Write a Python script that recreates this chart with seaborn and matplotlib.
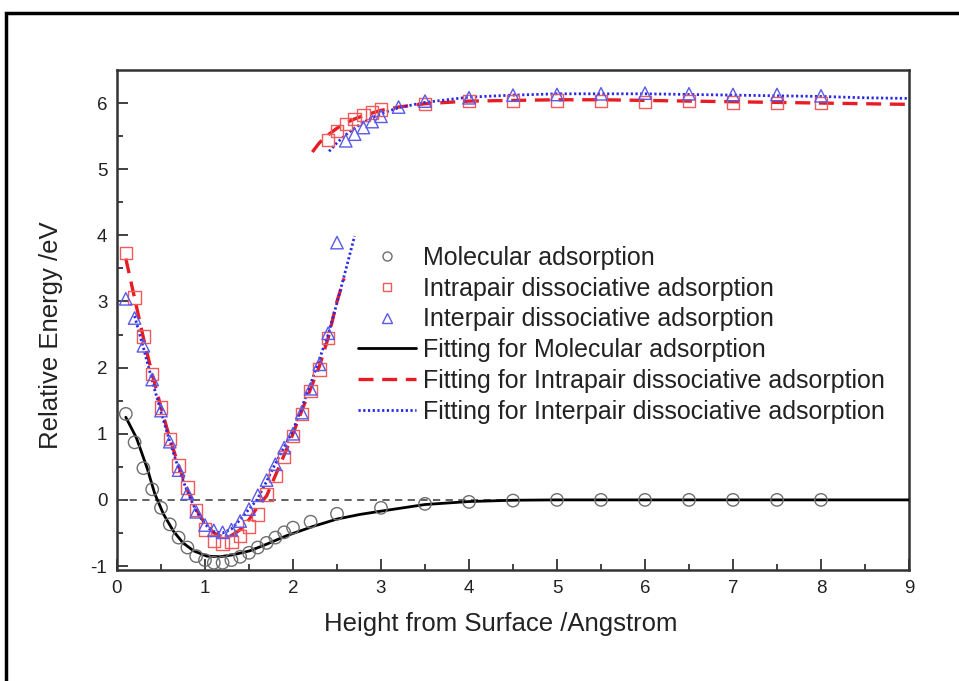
import numpy as np
import pandas as pd
import seaborn as sns
import matplotlib.pyplot as plt
from matplotlib.patches import Rectangle
from matplotlib.lines import Line2D

# ---- computed points ----
mol_x = [0.1, 0.2, 0.3, 0.4, 0.5, 0.6, 0.7, 0.8, 0.9, 1.0, 1.1, 1.2, 1.3, 1.4, 1.5,
         1.6, 1.7, 1.8, 1.9, 2.0, 2.2, 2.5, 3.0, 3.5, 4.0, 4.5, 5.0, 5.5, 6.0, 6.5,
         7.0, 7.5, 8.0]
mol_y = [1.30, 0.87, 0.48, 0.16, -0.12, -0.37, -0.57, -0.72, -0.85, -0.91, -0.95,
         -0.95, -0.91, -0.86, -0.80, -0.72, -0.65, -0.57, -0.49, -0.42, -0.33, -0.21,
         -0.12, -0.06, -0.03, -0.01, 0.0, 0.0, 0.0, 0.0, 0.0, 0.0, 0.0]

intra_x = [0.1, 0.2, 0.3, 0.4, 0.5, 0.6, 0.7, 0.8, 0.9, 1.0, 1.1, 1.2, 1.3, 1.4, 1.5,
           1.6, 1.7, 1.8, 1.9, 2.0, 2.1, 2.2, 2.3, 2.4,
           2.4, 2.5, 2.6, 2.7, 2.8, 2.9, 3.0, 3.5, 4.0, 4.5, 5.0, 5.5, 6.0, 6.5,
           7.0, 7.5, 8.0]
intra_y = [3.73, 3.06, 2.47, 1.90, 1.40, 0.92, 0.52, 0.19, -0.15, -0.45, -0.62, -0.66,
           -0.64, -0.55, -0.40, -0.22, 0.08, 0.36, 0.65, 0.97, 1.30, 1.65, 1.97, 2.45,
           5.44, 5.58, 5.68, 5.76, 5.82, 5.86, 5.90, 5.99, 6.03, 6.03, 6.04, 6.03,
           6.02, 6.03, 6.01, 6.00, 6.00]

inter_x = [0.1, 0.2, 0.3, 0.4, 0.5, 0.6, 0.7, 0.8, 0.9, 1.0, 1.1, 1.2, 1.3, 1.4, 1.5,
           1.6, 1.7, 1.8, 1.9, 2.0, 2.1, 2.2, 2.3, 2.4, 2.5,
           2.6, 2.7, 2.8, 2.9, 3.0, 3.2, 3.5, 4.0, 4.5, 5.0, 5.5, 6.0, 6.5, 7.0,
           7.5, 8.0]
inter_y = [3.04, 2.75, 2.33, 1.82, 1.35, 0.88, 0.45, 0.10, -0.18, -0.38, -0.46, -0.49,
           -0.45, -0.32, -0.14, 0.07, 0.30, 0.54, 0.79, 1.00, 1.32, 1.68, 2.05, 2.52,
           3.89,
           5.43, 5.53, 5.63, 5.72, 5.80, 5.94, 6.03, 6.08, 6.12, 6.13, 6.14, 6.15,
           6.14, 6.13, 6.13, 6.11]

# ---- fitted curves ----
fit_mol_x = [0.10, 0.22, 0.34, 0.43, 0.53, 0.64, 0.75, 0.87, 1.02, 1.17, 1.32, 1.51,
             1.70, 1.93, 2.23, 2.50, 2.76, 3.00, 3.50, 4.00, 4.50, 5.00, 6.00, 7.00,
             8.00, 9.00]
fit_mol_y = [1.25, 0.94, 0.49, 0.09, -0.22, -0.47, -0.65, -0.77, -0.85, -0.86, -0.83,
             -0.77, -0.67, -0.54, -0.40, -0.29, -0.22, -0.17, -0.07, -0.025, -0.005,
             0.0, 0.0, 0.0, 0.0, 0.0]

fit_intra_lo_x = [0.1, 0.2, 0.3, 0.4, 0.5, 0.6, 0.7, 0.8, 0.9, 1.0, 1.1, 1.2, 1.3,
                  1.4, 1.5, 1.6, 1.7, 1.8, 1.9, 2.0, 2.1, 2.2, 2.3, 2.4, 2.5, 2.58]
fit_intra_lo_y = [3.65, 3.05, 2.45, 1.90, 1.40, 0.93, 0.52, 0.15, -0.14, -0.36, -0.50,
                  -0.56, -0.54, -0.45, -0.30, -0.10, 0.06, 0.37, 0.68, 1.00, 1.35, 1.68,
                  2.02, 2.45, 3.00, 3.35]
fit_intra_hi_x = [2.22, 2.3, 2.4, 2.5, 2.6, 2.7, 2.8, 2.9, 3.0, 3.2, 3.5, 4.0, 4.5,
                  5.0, 5.5, 6.0, 6.5, 7.0, 7.5, 8.0, 8.5, 9.0]
fit_intra_hi_y = [5.26, 5.40, 5.52, 5.62, 5.70, 5.76, 5.81, 5.85, 5.89, 5.94, 5.99,
                  6.03, 6.04, 6.05, 6.05, 6.04, 6.03, 6.02, 6.01, 6.00, 5.99, 5.98]

fit_inter_lo_x = [0.2, 0.3, 0.4, 0.5, 0.6, 0.7, 0.8, 0.9, 1.0, 1.1, 1.2, 1.3, 1.4,
                  1.5, 1.59, 1.7, 1.8, 1.9, 2.0, 2.1, 2.2, 2.3, 2.4, 2.5, 2.6, 2.7]
fit_inter_lo_y = [2.78, 2.30, 1.80, 1.33, 0.88, 0.47, 0.12, -0.17, -0.37, -0.48,
                  -0.50, -0.44, -0.30, -0.14, 0.0, 0.28, 0.55, 0.80, 1.05, 1.40, 1.75,
                  2.13, 2.50, 2.98, 3.48, 3.99]
fit_inter_hi_x = [2.41, 2.5, 2.6, 2.7, 2.8, 2.9, 3.0, 3.2, 3.5, 4.0, 4.5, 5.0, 5.5,
                  6.0, 6.5, 7.0, 7.5, 8.0, 8.5, 9.0]
fit_inter_hi_y = [5.27, 5.40, 5.52, 5.62, 5.71, 5.78, 5.84, 5.93, 6.01, 6.09, 6.12,
                  6.14, 6.14, 6.14, 6.13, 6.12, 6.11, 6.10, 6.08, 6.07]

x_ticks = [0, 1, 2, 3, 4, 5, 6, 7, 8, 9]
y_ticks = [-1, 0, 1, 2, 3, 4, 5, 6]
y_tick_labels = ["-1", "0", "1", "2", "3", "4", "5", "6"]

labels = ["Molecular adsorption",
          "Intrapair dissociative adsorption",
          "Interpair dissociative adsorption",
          "Fitting for Molecular adsorption",
          "Fitting for Intrapair dissociative adsorption",
          "Fitting for Interpair dissociative adsorption"]

sns.set_style("white")
plt.rcParams["font.family"] = ["Liberation Sans", "DejaVu Sans"]

W, H = 959, 681
fig = plt.figure(figsize=(W / 100, H / 100), dpi=100)
ax = fig.add_axes([117 / W, 1 - 570 / H, (909 - 117) / W, (570 - 70) / H])

C_MOL = "#6e6e6e"
C_INTRA = "#f05a5a"
C_INTER = "#5a5ae8"
C_FIT_INTRA = "#e81c24"
C_FIT_INTER = "#2a2ae6"
DASH = (4.5, 2.6)
DOT = (0.8, 0.9)

ax.axhline(0, color="#555555", lw=1.3, ls=(0, (4, 3)), zorder=1)

line_kw = dict(sort=False, estimator=None, ax=ax, legend=False)
sns.lineplot(x=fit_mol_x, y=fit_mol_y, color="black", lw=2.0, zorder=3, **line_kw)
sns.lineplot(x=fit_intra_lo_x, y=fit_intra_lo_y, color=C_FIT_INTRA, lw=2.4,
             zorder=3, **line_kw)
sns.lineplot(x=fit_intra_hi_x, y=fit_intra_hi_y, color=C_FIT_INTRA, lw=2.4,
             zorder=3, **line_kw)
sns.lineplot(x=fit_inter_lo_x, y=fit_inter_lo_y, color=C_FIT_INTER, lw=2.0,
             zorder=4, **line_kw)
sns.lineplot(x=fit_inter_hi_x, y=fit_inter_hi_y, color=C_FIT_INTER, lw=2.0,
             zorder=4, **line_kw)
fit_lines = ax.get_lines()[1:]
fit_lines[1].set_dashes(DASH)
fit_lines[2].set_dashes(DASH)
fit_lines[3].set_dashes(DOT)
fit_lines[4].set_dashes(DOT)

sc_kw = dict(ax=ax, s=80, facecolor="none", linewidth=1.0, legend=False)
sns.scatterplot(x=mol_x, y=mol_y, marker="o", edgecolor=C_MOL, zorder=5, **sc_kw)
sns.scatterplot(x=intra_x, y=intra_y, marker="s", edgecolor=C_INTRA, zorder=5, **sc_kw)
sns.scatterplot(x=inter_x, y=inter_y, marker="^", edgecolor=C_INTER, zorder=5, **sc_kw)

ax.set_xlim(0, 9)
ax.set_ylim(-1.06, 6.5)
ax.set_xticks(x_ticks)
ax.set_yticks(y_ticks)
ax.set_yticklabels(y_tick_labels)
ax.set_xticks(np.arange(0.5, 9, 1.0), minor=True)
ax.set_yticks(np.arange(-0.5, 6.5, 1.0), minor=True)
ax.tick_params(which="both", direction="in", bottom=True, left=True, top=False,
               right=False, colors="#333333", labelcolor="#222222", labelsize=13.5,
               width=1.3)
ax.tick_params(which="major", length=8, pad=7)
ax.tick_params(which="minor", length=4.5)
for sp in ax.spines.values():
    sp.set_color("#333333")
    sp.set_linewidth(1.8)

ax.set_xlabel("Height from Surface /Angstrom", fontsize=18.5, color="#222222")
ax.set_ylabel("Relative Energy /eV", fontsize=18.5, color="#222222")
ax.xaxis.set_label_coords((501 - 117) / 792, -0.085)
ax.yaxis.set_label_coords(-0.068, 0.47)

# legend
handles = [
    Line2D([], [], ls="none", marker="o", mfc="none", mec=C_MOL, ms=6.5, mew=1.0),
    Line2D([], [], ls="none", marker="s", mfc="none", mec=C_INTRA, ms=6.0, mew=1.0),
    Line2D([], [], ls="none", marker="^", mfc="none", mec=C_INTER, ms=6.5, mew=1.0),
    Line2D([], [], color="black", lw=2.0),
    Line2D([], [], color=C_FIT_INTRA, lw=2.4, dashes=DASH),
    Line2D([], [], color=C_FIT_INTER, lw=2.0, dashes=DOT),
]
leg = ax.legend(handles, labels, loc="upper left",
                bbox_to_anchor=(358 / W, 1 - 246 / H), bbox_transform=fig.transFigure,
                frameon=False, fontsize=18.0, handlelength=2.3, handletextpad=0.3,
                labelspacing=0.27, borderpad=0, borderaxespad=0)
for t in leg.get_texts():
    t.set_color("#222222")

# outer frame around the panel
fig.patches.append(Rectangle((6 / W, -0.2), 2.0, 1.2 - 13 / H, transform=fig.transFigure,
                             fill=False, edgecolor="black", lw=2.5))

fig.savefig("out.png", dpi=100)
